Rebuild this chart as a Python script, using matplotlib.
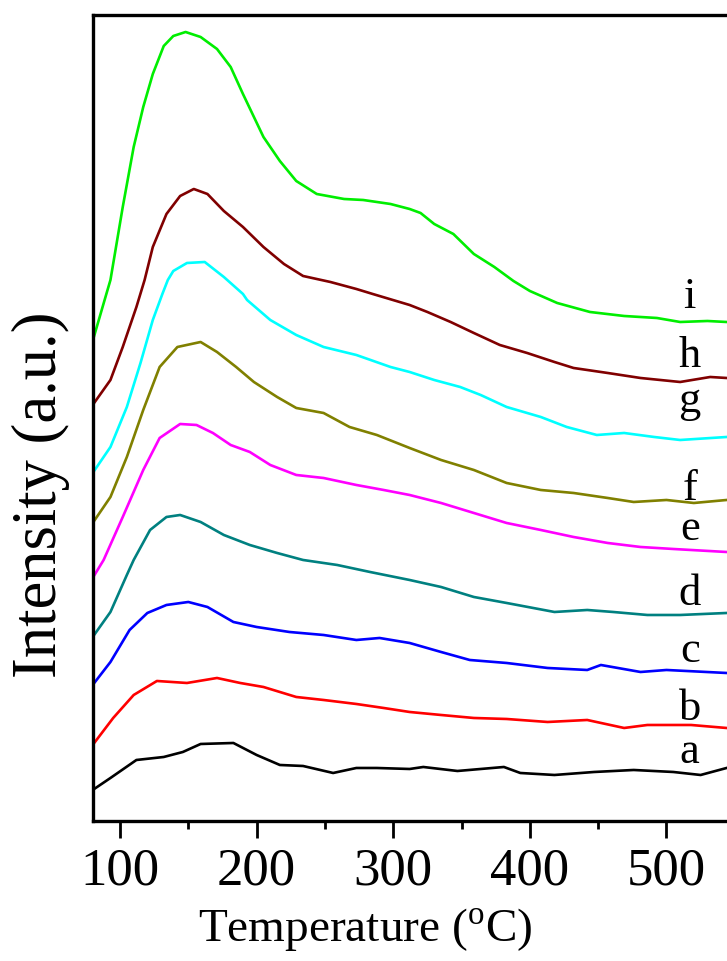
import matplotlib
matplotlib.use('Agg')
import matplotlib.pyplot as plt
from matplotlib.ticker import MultipleLocator

plt.rcParams['font.family'] = ['Liberation Serif', 'DejaVu Serif']
plt.rcParams['mathtext.fontset'] = 'custom'
plt.rcParams['mathtext.rm'] = 'Liberation Serif'

# TPD-like curves (temperature in C, intensity in a.u.)
a_T = [80, 93, 112, 132, 146, 159, 183, 200, 217, 234, 256, 273, 288, 312, 322, 347, 381, 393, 418, 447, 476, 505, 525, 544]
a_I = [31, 43, 61, 64, 69, 77, 78, 66, 56, 55, 48, 53, 53, 52, 54, 50, 54, 48, 46, 49, 51, 49, 46, 53]

b_T = [80, 95, 110, 127, 149, 171, 188, 205, 229, 249, 273, 293, 312, 335, 359, 383, 413, 442, 469, 486, 518, 544]
b_I = [76, 103, 126, 140, 138, 143, 138, 134, 124, 121, 117, 113, 109, 106, 103, 102, 99, 101, 93, 96, 96, 93]

c_T = [80, 93, 107, 120, 134, 150, 164, 183, 200, 224, 249, 273, 290, 312, 335, 356, 383, 413, 442, 452, 481, 500, 544]
c_I = [136, 159, 191, 208, 216, 219, 214, 199, 194, 189, 186, 181, 183, 178, 169, 161, 158, 153, 151, 156, 149, 151, 148]

d_T = [80, 93, 105, 110, 116, 122, 134, 144, 159, 176, 195, 215, 234, 259, 283, 312, 335, 359, 383, 418, 442, 461, 486, 510, 544]
d_I = [184, 209, 246, 261, 276, 291, 304, 306, 299, 286, 276, 268, 261, 256, 249, 241, 234, 224, 218, 209, 211, 209, 206, 206, 208]

e_T = [80, 88, 102, 117, 129, 144, 156, 168, 181, 195, 210, 229, 249, 273, 293, 312, 335, 359, 383, 408, 432, 457, 481, 505, 544]
e_I = [243, 261, 304, 351, 383, 397, 396, 388, 376, 369, 356, 346, 343, 336, 331, 326, 318, 308, 298, 291, 284, 278, 274, 272, 269]

f_T = [80, 93, 105, 117, 129, 142, 159, 171, 185, 198, 215, 229, 249, 268, 288, 312, 335, 359, 383, 408, 432, 457, 476, 500, 520, 544]
f_I = [298, 324, 364, 411, 454, 474, 479, 469, 454, 439, 424, 413, 408, 394, 386, 373, 361, 351, 338, 331, 328, 323, 319, 321, 318, 321]

g_T = [80, 93, 105, 115, 124, 131, 135, 139, 149, 162, 176, 190, 193, 210, 229, 249, 273, 298, 312, 330, 349, 364, 383, 408, 427, 449, 469, 491, 510, 544]
g_I = [348, 374, 414, 458, 501, 527, 541, 550, 558, 559, 544, 527, 521, 501, 486, 474, 466, 454, 449, 441, 434, 426, 414, 404, 394, 386, 388, 384, 381, 384]

h_T = [80, 93, 102, 112, 118, 124, 134, 144, 154, 164, 176, 190, 205, 220, 234, 254, 273, 285, 312, 325, 342, 359, 378, 398, 418, 432, 457, 481, 510, 532, 544]
h_I = [416, 441, 474, 514, 541, 574, 607, 625, 632, 627, 610, 594, 574, 557, 545, 539, 532, 527, 516, 509, 499, 488, 476, 468, 459, 453, 448, 443, 439, 444, 443]

i_T = [80, 90, 93, 102, 110, 117, 124, 132, 139, 148, 159, 171, 181, 190, 205, 217, 229, 244, 264, 278, 298, 312, 320, 330, 344, 359, 374, 388, 400, 420, 444, 469, 493, 510, 530, 544]
i_I = [480, 527, 541, 614, 674, 714, 747, 775, 785, 789, 784, 772, 754, 727, 684, 660, 640, 627, 622, 621, 617, 612, 608, 597, 587, 567, 554, 540, 530, 518, 509, 505, 503, 499, 500, 499]

names = ['a', 'b', 'c', 'd', 'e', 'f', 'g', 'h', 'i']
temps = [a_T, b_T, c_T, d_T, e_T, f_T, g_T, h_T, i_T]
intens = [a_I, b_I, c_I, d_I, e_I, f_I, g_I, h_I, i_I]
colors = ['#000000', '#ff0000', '#0000ff', '#008080', '#ff00ff',
          '#808000', '#00ffff', '#800000', '#00ee00']
label_y = [58, 101, 159, 216, 281, 321, 409, 454, 513]

fig = plt.figure(figsize=(7.27, 9.61), dpi=100)
ax = fig.add_axes([0.1275, 0.1457, 0.902, 0.8387])

for T, I, c in zip(temps, intens, colors):
    ax.plot(T, I, color=c, lw=1.9)

for n, yy in zip(names, label_y):
    ax.text(517, yy, n, fontsize=32, ha='center', va='baseline')

ax.set_xlim(80, 560)
ax.set_ylim(0, 806)
ax.xaxis.set_major_locator(MultipleLocator(100))
ax.xaxis.set_minor_locator(MultipleLocator(50))
ax.set_yticks([])
ax.tick_params(axis='x', which='major', direction='out', length=12, width=2,
               labelsize=38, pad=7)
ax.tick_params(axis='x', which='minor', direction='out', length=6, width=2)
for s in ax.spines.values():
    s.set_linewidth(2.4)

ax.set_xlabel(r'Temperature ($^{\mathrm{o}}$C)', fontsize=34)
ax.xaxis.set_label_coords(0.415, -0.106)
ax.set_ylabel('Intensity (a.u.)', fontsize=45)
ax.yaxis.set_label_coords(-0.035, 0.405)

fig.savefig('out.png', dpi=100)
